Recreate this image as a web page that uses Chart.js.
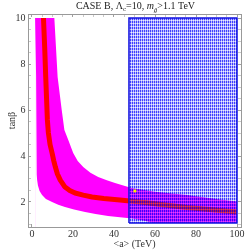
<!DOCTYPE html>
<html>
<head>
<meta charset="utf-8">
<script src="https://cdn.jsdelivr.net/npm/chart.js@4"></script>
<style>
  html, body { margin: 0; padding: 0; background: #fff; }
  canvas { display: block; }
</style>
</head>
<body>
<canvas id="chart" width="250" height="250"></canvas>
<script>
// tick labels
const xTicks = [0, 20, 40, 60, 80, 100];
const yTicks = [2, 4, 6, 8, 10];

// magenta band: upper/right edge and lower/left edge
const upperX = [1.5, 10.9, 12.5, 14.5, 15.8, 17.7, 20.1, 22.3, 25.0, 28.5, 32.3, 36.5, 40.5, 48.6, 60.0, 75.6, 88.0, 100];
const upperY = [10, 10, 7.43, 6.0, 5.13, 4.70, 4.13, 3.78, 3.52, 3.27, 3.09, 2.95, 2.83, 2.61, 2.45, 2.30, 2.15, 2.02];
const lowerX = [1.5, 2.0, 2.3, 2.3, 2.5, 2.9, 3.7, 4.9, 6.8, 9.8, 12.8, 16.1, 20.5, 25.9, 31.0, 37.1, 48.8, 55.0, 59.0, 100];
const lowerY = [10, 7.5, 5.57, 3.2, 2.96, 2.72, 2.48, 2.30, 2.13, 2.0, 1.88, 1.78, 1.67, 1.57, 1.48, 1.39, 1.28, 1.18, 1.09, 1.09];

// red central curve
const redX = [5.6, 6.2, 6.7, 7.1, 7.5, 8.0, 8.8, 9.8, 10.6, 11.4, 12.4, 13.8, 16.1, 18.4, 21.0, 25.0, 29.3, 35.0, 42.9, 55.0, 64.0, 75.6, 88.0, 100];
const redY = [10, 8.7, 7.43, 6.5, 5.57, 5.0, 4.5, 4.13, 3.80, 3.52, 3.22, 2.95, 2.65, 2.50, 2.39, 2.30, 2.22, 2.15, 2.09, 1.98, 1.88, 1.76, 1.66, 1.57];

// blue hatched box (x from..to, y from..to)
const boxX = [47.3, 100];
const boxY = [1.09, 10];

// yellow point
const dotX = [50.2];
const dotY = [2.48];

const pts = (xs, ys) => xs.map((x, i) => ({ x, y: ys[i] }));
const serif = '"Liberation Serif", "DejaVu Serif", serif';

function boxPattern() {
  const p = document.createElement("canvas");
  p.width = 2;
  p.height = 3;
  const g = p.getContext("2d");
  const cells = [
    [0, 0, "rgba(0,0,255,0.75)"], [1, 0, "rgba(60,60,255,0.35)"],
    [0, 1, "rgba(0,0,255,0.75)"], [1, 1, "rgba(60,60,255,0.35)"],
    [0, 2, "rgba(80,80,255,0.45)"], [1, 2, "rgba(200,200,255,0.3)"],
  ];
  cells.forEach(([cx, cy, c]) => { g.fillStyle = c; g.fillRect(cx, cy, 1, 1); });
  return g.createPattern(p, "repeat");
}

// title with sub/italic parts
const titlePlugin = {
  id: "caseTitle",
  afterDraw(chart) {
    const ctx = chart.ctx;
    const parts = [
      ["CASE B, \u039B", "10px " + serif, 0],
      ["c", "7px " + serif, 2],
      ["=10, ", "10px " + serif, 0],
      ["m", "italic 10px " + serif, 0],
      ["g\u0303", "italic 7px " + serif, 3],
      [">1.1 TeV", "10px " + serif, 0],
    ];
    ctx.save();
    ctx.fillStyle = "#222";
    ctx.textBaseline = "alphabetic";
    let total = 0;
    parts.forEach(([t, f]) => { ctx.font = f; total += ctx.measureText(t).width; });
    const area = chart.chartArea;
    let x = (area.left + area.right) / 2 + 1 - total / 2;
    parts.forEach(([t, f, dy]) => {
      ctx.font = f;
      ctx.fillText(t, x, 9 + dy);
      x += ctx.measureText(t).width;
    });
    ctx.restore();
  },
};

// majors plus minor ticks in between
function minorTicks(scale, step, lo, hi) {
  const list = [];
  for (let v = lo; v <= hi + 1e-9; v += step) list.push({ value: +v.toFixed(3) });
  scale.ticks = list;
}

const axisStyle = (majors) => ({
  border: { display: true, color: "#999", width: 1 },
  grid: {
    drawOnChartArea: false,
    drawTicks: true,
    tickLength: -3,
    tickWidth: 0.8,
    tickColor: (c) => (majors.includes(c.tick && c.tick.value) ? "#888" : "#bbb"),
  },
});

const curve = { showLine: true, pointRadius: 0, tension: 0 };

new Chart(document.getElementById("chart"), {
  type: "scatter",
  data: {
    datasets: [
      {
        data: pts(dotX, dotY),
        pointStyle: "rect",
        pointRadius: 1.7,
        backgroundColor: "#ffff00",
        borderColor: "#e8d000",
        borderWidth: 0.5,
      },
      {
        ...curve,
        data: pts([boxX[0], boxX[0], boxX[1], boxX[1], boxX[0]], [boxY[0], boxY[1], boxY[1], boxY[0], boxY[0]]),
        borderColor: "#1010e0",
        borderWidth: 1.5,
        fill: false,
      },
      {
        ...curve,
        data: pts(boxX, [boxY[1], boxY[1]]),
        borderWidth: 0,
        backgroundColor: boxPattern(),
        fill: { value: boxY[0] },
      },
      {
        ...curve,
        data: pts(redX, redY),
        borderColor: "#ff0000",
        borderWidth: 5,
        borderJoinStyle: "round",
        fill: false,
      },
      {
        ...curve,
        data: pts(lowerX, lowerY),
        borderWidth: 0,
        backgroundColor: "#ffffff",
        fill: "start",
      },
      {
        ...curve,
        data: pts(upperX, upperY),
        borderWidth: 0,
        backgroundColor: "#ff00ff",
        fill: "start",
      },
    ],
  },
  options: {
    responsive: false,
    animation: false,
    layout: { padding: 0 },
    plugins: { legend: { display: false }, tooltip: { enabled: false } },
    scales: {
      x: {
        type: "linear",
        position: "bottom",
        min: -1.95,
        max: 101.95,
        z: 1,
        ...axisStyle(xTicks),
        afterBuildTicks: (s) => minorTicks(s, 5, 0, 100),
        afterFit: (s) => { s.height = 23; },
        ticks: {
          autoSkip: false,
          maxRotation: 0,
          padding: 4,
          color: "#333",
          font: { family: serif, size: 10 },
          callback: (v) => (xTicks.includes(v) ? String(v) : ""),
        },
        title: {
          display: true,
          text: "<a> (TeV)",
          color: "#333",
          padding: 0,
          font: { family: serif, size: 10 },
        },
      },
      x2: {
        type: "linear",
        position: "top",
        min: -1.95,
        max: 101.95,
        z: 1,
        ...axisStyle(xTicks),
        afterBuildTicks: (s) => minorTicks(s, 5, 0, 100),
        afterFit: (s) => { s.height = 14; },
        ticks: { autoSkip: false, display: false },
      },
      y: {
        type: "linear",
        position: "left",
        min: 0.913,
        max: 10.174,
        z: 1,
        ...axisStyle(yTicks),
        afterBuildTicks: (s) => minorTicks(s, 0.5, 1, 10),
        afterFit: (s) => { s.width = 28; },
        ticks: {
          autoSkip: false,
          padding: 5.5,
          color: "#333",
          font: { family: serif, size: 10 },
          callback: (v) => (yTicks.includes(v) ? String(v) : ""),
        },
        title: {
          display: true,
          text: "tan\u03B2",
          color: "#333",
          padding: { top: 6.5, bottom: 0 },
          font: { family: serif, size: 10 },
        },
      },
      y2: {
        type: "linear",
        position: "right",
        min: 0.913,
        max: 10.174,
        z: 1,
        ...axisStyle(yTicks),
        afterBuildTicks: (s) => minorTicks(s, 0.5, 1, 10),
        afterFit: (s) => { s.width = 9; },
        ticks: { autoSkip: false, display: false },
      },
    },
  },
  plugins: [titlePlugin],
});
</script>
</body>
</html>
